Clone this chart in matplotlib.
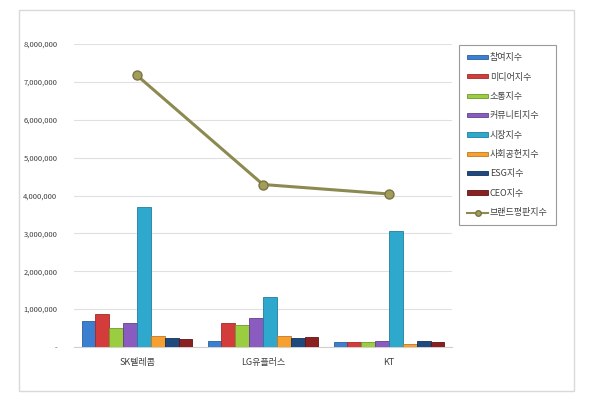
import matplotlib
matplotlib.use("Agg")
import matplotlib.pyplot as plt
import matplotlib.ticker as mticker
from matplotlib.patches import Rectangle
from matplotlib.lines import Line2D
import numpy as np

plt.rcParams["font.family"] = ["Noto Sans CJK KR", "DejaVu Sans"]

companies = ["SK텔레콤", "LG유플러스", "KT"]
series_names = ["참여지수", "미디어지수", "소통지수", "커뮤니티지수",
                "시장지수", "사회공헌지수", "ESG지수", "CEO지수"]
participation = [680000, 150000, 120000]
media = [870000, 630000, 130000]
communication = [500000, 590000, 130000]
community = [630000, 770000, 160000]
market = [3690000, 1320000, 3070000]
contribution = [290000, 290000, 70000]
esg = [230000, 230000, 150000]
ceo = [210000, 260000, 130000]
brand_index = [7170000, 4290000, 4040000]

colors = ["#3a7fd0", "#d43c3c", "#9acd40", "#8a5cc0",
          "#2ea8cc", "#f7a030", "#1f4a80", "#8a2020"]
edges = ["#2a5f9e", "#9e2b2b", "#6f9a2c", "#63408e",
         "#1f7f9c", "#c07820", "#12325a", "#5e1414"]

series = [participation, media, communication, community,
          market, contribution, esg, ceo]

fig = plt.figure(figsize=(6, 4), dpi=100)
fig.patches.append(Rectangle((19 / 600, 9 / 400), 555 / 600, 381 / 400,
                             transform=fig.transFigure, fill=False,
                             edgecolor="#d9d9d9", linewidth=1))
ax = fig.add_axes([74 / 600, 53 / 400, 378 / 600, 303 / 400])

x = np.arange(len(companies))
width = 0.11
handles = []
for i, (vals, name) in enumerate(zip(series, series_names)):
    b = ax.bar(x + (i - 3.5) * width, vals, width=width, color=colors[i],
               edgecolor=edges[i], linewidth=0.6, label=name, zorder=3)
    handles.append(b)

ax.plot(x, brand_index, color="#8c8a50", linewidth=2.2, marker="o",
        markersize=6.5, markerfacecolor="#a39d5c", markeredgecolor="#7a7444",
        zorder=4)
handles.append(Line2D([], [], color="#8c8a50", linewidth=1.5, marker="o",
                      markersize=4, markerfacecolor="#a39d5c",
                      markeredgecolor="#7a7444"))
labels = series_names + ["브랜드평판지수"]

ax.set_xlim(-0.5, 2.5)
ax.set_ylim(0, 8000000)
ax.set_yticks(np.arange(0, 8000001, 1000000))
ax.yaxis.set_major_formatter(mticker.FuncFormatter(
    lambda v, p: "-" if v == 0 else f"{int(v):,}"))
ax.set_xticks(x)
ax.set_xticklabels(companies)
ax.tick_params(axis="y", length=0, labelsize=5.5, colors="#404040", pad=12)
ax.tick_params(axis="x", length=0, labelsize=6.5, colors="#404040", pad=8)
ax.grid(axis="y", color="#e0e0e0", linewidth=0.8, zorder=0)
for s in ["top", "right", "left"]:
    ax.spines[s].set_visible(False)
ax.spines["bottom"].set_color("#d0d0d0")

leg = ax.legend(handles, labels, loc="upper left",
                bbox_to_anchor=(459 / 600, 1 - 45 / 400),
                bbox_transform=fig.transFigure, fontsize=6.5, frameon=True,
                fancybox=False, edgecolor="#808080", handlelength=2.3,
                handleheight=0.35, labelspacing=1.15, borderpad=0.9,
                handletextpad=0.2, borderaxespad=0)
leg.get_frame().set_linewidth(0.8)
for t in leg.get_texts():
    t.set_color("#404040")

fig.savefig("out.png", dpi=100)
